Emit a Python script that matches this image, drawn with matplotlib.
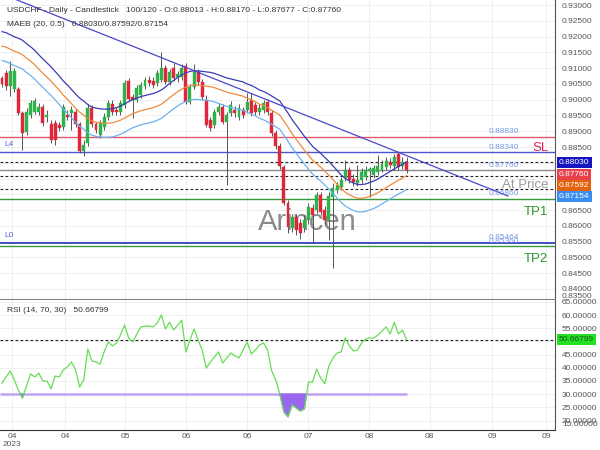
import matplotlib
matplotlib.use("Agg")
import matplotlib.pyplot as plt
import numpy as np

plt.rcParams['font.family'] = ['Liberation Sans', 'DejaVu Sans']

# daily candles, USDCHF, oldest first
opens = [
    .9069, .9085, .9043, .9034, .9034, .8958, .8898, .8951, .8961, .8961,
    .8977, .8945, .8923, .8926, .8920, .8913, .8951, .8958, .8961, .8923,
    .8837, .8863, .8974, .8923, .8888, .8913, .8945, .8986, .8967, .8961,
    .8983, .9059, .9009, .8999, .9015, .9043, .9062, .9059, .9053, .9062,
    .9100, .9056, .9100, .9072, .9072, .9107, .8993, .9040, .9088, .9056,
    .8999, .8936, .8920, .8961, .8977, .8929, .8958, .8967, .8945, .8967,
    .8967, .8999, .8983, .8961, .8967, .8993, .8958, .8894, .8853, .8787,
    .8673, .8593, .8628, .8609, .8593, .8619, .8657, .8650, .8698, .8650,
    .8619, .8692, .8714, .8723, .8752, .8777, .8749, .8736, .8745, .8755,
    .8774, .8761, .8771, .8777, .8787, .8803, .8790, .8828, .8790, .88013]
highs = [
    .9075, .9094, .9123, .9100, .9040, .8964, .8974, .8999, .9005, .8990,
    .8986, .8967, .8936, .8936, .8929, .8986, .8967, .8980, .8971, .8929,
    .8872, .8986, .8983, .8929, .8936, .8958, .8999, .8999, .8977, .8999,
    .9062, .9069, .9018, .9047, .9056, .9072, .9075, .9072, .9094, .9151,
    .9110, .9097, .9116, .9091, .9113, .9116, .9050, .9113, .9097, .9066,
    .9015, .8945, .8971, .8990, .8986, .8961, .8996, .8980, .8986, .8977,
    .9021, .9021, .8993, .8986, .8999, .9002, .8967, .8904, .8863, .8793,
    .8682, .8638, .8638, .8622, .8634, .8673, .8669, .8707, .8707, .8663,
    .8707, .8736, .8739, .8755, .8809, .8787, .8764, .8793, .8783, .8790,
    .8787, .8793, .8825, .8809, .8818, .8815, .8828, .8834, .8818, .88170]
lows = [
    .9040, .9031, .9012, .9024, .8951, .8841, .8888, .8942, .8955, .8951,
    .8917, .8929, .8863, .8856, .8901, .8904, .8936, .8904, .8913, .8831,
    .8822, .8853, .8913, .8894, .8879, .8904, .8936, .8951, .8951, .8951,
    .8974, .8996, .8942, .8993, .9005, .9034, .9043, .9037, .9043, .9056,
    .9050, .9047, .9059, .9056, .9062, .8986, .8986, .9034, .9047, .8999,
    .8913, .8901, .8910, .8951, .8923, .8730, .8948, .8945, .8936, .8942,
    .8958, .8948, .8951, .8951, .8958, .8951, .8885, .8844, .8780, .8666,
    .8577, .8581, .8571, .8558, .8581, .8606, .8546, .8641, .8634, .8603,
    .8555, .8466, .8704, .8714, .8742, .8736, .8726, .8726, .8736, .8745,
    .8692, .8752, .8761, .8771, .8777, .8783, .8777, .8777, .8780, .87677]
closes = [
    .9050, .9043, .9091, .9091, .8958, .8894, .8961, .8990, .8996, .8977,
    .8926, .8951, .8872, .8872, .8910, .8977, .8945, .8967, .8923, .8837,
    .8856, .8974, .8923, .8904, .8926, .8945, .8990, .8961, .8961, .8990,
    .9053, .9002, .8999, .9037, .9047, .9062, .9053, .9047, .9085, .9100,
    .9056, .9088, .9069, .9081, .9100, .8993, .9040, .9088, .9056, .9009,
    .8920, .8910, .8961, .8977, .8929, .8951, .8983, .8958, .8974, .8951,
    .8993, .8958, .8961, .8974, .8990, .8961, .8894, .8853, .8790, .8673,
    .8596, .8628, .8587, .8577, .8619, .8660, .8634, .8698, .8644, .8619,
    .8695, .8720, .8729, .8745, .8777, .8745, .8739, .8745, .8771, .8777,
    .8780, .8783, .8790, .8796, .8806, .8793, .8818, .8787, .8803, .87760]

# MAEB(20, 0.5) middle line
ma_mid = [
    .91698, .91666, .91602, .91539, .91491, .91428, .91317, .91222, .91111, .90968,
    .90841, .90714, .90588, .90445, .90302, .90144, .90017, .89874, .89731, .89604,
    .89509, .89398, .89319, .89287, .89265, .89255, .89255, .89265, .89303, .89351,
    .89414, .89493, .89557, .89604, .89652, .89684, .89715, .89747, .89795, .89858,
    .89953, .90064, .90159, .90254, .90334, .90397, .90445, .90461, .90461, .90445,
    .90429, .90413, .90381, .90334, .90286, .90239, .90207, .90175, .90144, .90112,
    .90048, .90001, .89937, .89858, .89811, .89747, .89668, .89589, .89509, .89319,
    .89129, .88922, .88748, .88574, .88399, .88241, .88082, .87971, .87860, .87733,
    .87606, .87464, .87321, .87178, .87067, .86988, .86924, .86877, .86877, .86893,
    .86940, .86988, .87051, .87131, .87210, .87289, .87368, .87448, .87511, .87592]
envelope_pct = 0.5

rsi = [
    34.2, 36.5, 38.8, 35.4, 31.6, 28.6, 33.1, 37.7, 36.5, 38.0,
    35.0, 35.0, 32.0, 36.9, 36.5, 39.2, 40.3, 42.2, 39.2, 32.7,
    35.4, 47.1, 42.6, 42.2, 41.4, 46.0, 49.8, 48.3, 49.4, 52.4,
    56.2, 51.3, 49.8, 52.8, 55.5, 55.8, 55.8, 55.5, 57.0, 60.0,
    54.7, 57.3, 54.3, 56.2, 58.1, 46.0, 50.5, 54.7, 50.5, 46.7,
    39.9, 42.2, 44.1, 46.0, 41.8, 43.7, 45.6, 44.5, 43.7, 46.7,
    49.8, 45.2, 46.7, 48.6, 49.4, 46.7, 38.8, 35.4, 30.1, 23.3,
    21.4, 25.9, 24.8, 23.6, 24.4, 34.6, 34.6, 39.5, 36.1, 33.9,
    40.7, 43.7, 45.6, 46.0, 51.3, 48.3, 46.4, 46.7, 49.4, 50.9,
    51.3, 51.3, 52.4, 53.9, 55.5, 52.8, 57.3, 52.8, 54.3, 50.67]
rsi_now = 50.66799
rsi_oversold = 30

sl_level = 0.88830
l4_level = 0.88340
price_now = 0.87760
tp1_level = 0.86860
l0_level = 0.85464
tp2_level = 0.85360
band_now = [0.88030, 0.87592, 0.87154]

trend_x = [-0.5, 123.8]
trend_y = [0.93376, 0.86947]

tick_pos = [2.45, 15.4, 30.1, 45.0, 60.0, 74.9, 89.8, 104.7, 119.9, 133.1]
tick_labels = ["04\n2023", "04", "05", "06", "06", "07", "08", "08", "09", "09"]

GREEN = "#2eb34a"
RED = "#e0263a"

fig = plt.figure(figsize=(6, 4.5), dpi=100)
ax = fig.add_axes([0, 1 - 300 / 450, 555 / 600, 300 / 450])
ax2 = fig.add_axes([0, 1 - 430 / 450, 555 / 600, 130 / 450], sharex=ax)

x = np.arange(len(closes))
o = np.array(opens)
c = np.array(closes)
up = c >= o
cols = np.where(up, GREEN, RED)

ax.text(62.7, 0.8612, "Arincen", fontsize=21, color="#777777", alpha=0.85,
        ha="left", va="center", zorder=1)

ax.vlines(x, lows, highs, color="#555555", lw=0.7, zorder=3)
ax.bar(x, np.maximum(np.abs(c - o), 0.00008), bottom=np.minimum(o, c), width=0.72,
       color=cols, edgecolor=cols, lw=0.3, zorder=4)

mid = np.array(ma_mid)
ax.plot(x, mid * (1 + envelope_pct / 100), color="#3b3bb3", lw=0.9, zorder=5)
ax.plot(x, mid, color="#f08a3c", lw=0.9, zorder=5)
ax.plot(x, mid * (1 - envelope_pct / 100), color="#6cb2f0", lw=0.9, zorder=5)
ax.plot(trend_x, trend_y, color="#4848c8", lw=0.9, zorder=5)

ax.axhline(sl_level, color="#e05a6a", lw=1.0, zorder=2)
ax.axhline(l4_level, color="#4a55d0", lw=1.0, zorder=2)
ax.axhline(band_now[0], color="#222222", lw=0.8, ls=(0, (2.5, 2)), zorder=2)
ax.axhline(price_now, color="#8a8a8a", lw=1.0, zorder=2)
ax.axhline(band_now[1], color="#222222", lw=0.8, ls=(0, (2.5, 2)), zorder=2)
ax.axhline(band_now[2], color="#222222", lw=0.8, ls=(0, (2.5, 2)), zorder=2)
ax.axhline(tp1_level, color="#3a9a3a", lw=1.0, zorder=2)
ax.axhline(l0_level, color="#3344bb", lw=1.3, zorder=2)
ax.axhline(tp2_level, color="#3a9a3a", lw=1.0, zorder=2)

for lv in [sl_level, l4_level, price_now, tp1_level, l0_level, tp2_level]:
    ax.annotate(f"{lv:.5f}", (119.2, lv), xytext=(0, 1), textcoords="offset points",
                fontsize=6, color="#7a9ae8", ha="left", va="bottom", zorder=6)
ax.annotate("SL", (133.7, l4_level), xytext=(0, 0.5), textcoords="offset points",
            fontsize=9.5, color="#dd2255", ha="right", va="baseline", zorder=6)
ax.annotate("At Price", (133.7, price_now), xytext=(0, -13), textcoords="offset points",
            fontsize=9.5, color="#9a9a9a", ha="right", va="baseline", zorder=6)
ax.annotate("TP1", (133.7, tp1_level), xytext=(0, -11.5), textcoords="offset points",
            fontsize=9.5, color="#2e962e", ha="right", va="baseline", zorder=6)
ax.annotate("TP2", (133.7, tp2_level), xytext=(0, -11.5), textcoords="offset points",
            fontsize=9.5, color="#2e962e", ha="right", va="baseline", zorder=6)
ax.annotate("L4", (0.6, l4_level), xytext=(0, 3), textcoords="offset points",
            fontsize=6, color="#5566dd", ha="left", va="bottom", zorder=6)
ax.annotate("L0", (0.6, l0_level), xytext=(0, 3), textcoords="offset points",
            fontsize=6, color="#5566dd", ha="left", va="bottom", zorder=6)

# price-scale labels hidden behind the current-value boxes
hidden_price = [0.870, 0.875, 0.880]
hidden_rsi = [50]


def price_fmt(v, pos):
    if any(abs(v - h) < 1e-6 for h in hidden_price):
        return ""
    return f"{v:.5f}"


def rsi_fmt(v, pos):
    if any(abs(v - h) < 1e-6 for h in hidden_rsi):
        return ""
    return f"{v:.5f}"


ax.set_xlim(-0.49, 135.34)
ax.set_ylim(0.8365, 0.9316)
ax.yaxis.tick_right()
ax.set_yticks(np.arange(0.840, 0.93001, 0.005))
ax.yaxis.set_major_formatter(plt.FuncFormatter(price_fmt))
ax.set_xticks(tick_pos)
ax.tick_params(axis="x", labelbottom=False, length=0)
ax.tick_params(axis="y", length=0, pad=5, labelsize=6, labelcolor="#555555")
ax.grid(color="#ececec", lw=0.6)
ax.set_axisbelow(True)
for s in ["top", "left"]:
    ax.spines[s].set_visible(False)
ax.spines["right"].set_color("#555555")
ax.spines["bottom"].set_color("#808080")
ax.spines["bottom"].set_linewidth(1.5)

# RSI panel
r = np.array(rsi)
ax2.plot(x, r, color="#66dd55", lw=0.9, zorder=4)
ax2.hlines(rsi_oversold, -0.5, x[-1], color="#c0a2f0", lw=1.8, zorder=3)
ax2.fill_between(x, r, rsi_oversold, where=r < rsi_oversold, interpolate=True,
                 color="#9a68ee", zorder=3)
ax2.axhline(rsi_now, color="#222222", lw=0.8, ls=(0, (2.5, 2)), zorder=2)
ax2.set_ylim(16.4, 65.7)
ax2.yaxis.tick_right()
ax2.set_yticks(np.arange(20, 66, 5))
ax2.yaxis.set_major_formatter(plt.FuncFormatter(rsi_fmt))
ax2.set_xticks(tick_pos)
ax2.set_xticklabels(tick_labels)
ax2.tick_params(axis="x", length=0, pad=2, labelsize=6, labelcolor="#555555")
ax2.tick_params(axis="y", length=0, pad=5, labelsize=6, labelcolor="#555555")
ax2.grid(color="#ececec", lw=0.6)
ax2.set_axisbelow(True)
for s in ["top", "left"]:
    ax2.spines[s].set_visible(False)
ax2.spines["right"].set_color("#555555")
ax2.spines["bottom"].set_color("#333333")

# header texts
fig.text(7 / 600, 1 - 10 / 450,
         "USDCHF - Daily - Candlestick   100/120 - O:0.88013 - H:0.88170 - L:0.87677 - C:0.87760",
         fontsize=6, color="#333333", va="center")
fig.text(7 / 600, 1 - 25 / 450,
         f"MAEB (20, 0.5)   {band_now[0]:.5f}/{band_now[1]:.5f}/{band_now[2]:.5f}",
         fontsize=6, color="#333333", va="center")
fig.text(7 / 600, 1 - 311 / 450, f"RSI (14, 70, 30)   {rsi_now:.5f}",
         fontsize=6, color="#333333", va="center")

# edge labels clipped by the panels
fig.text(562 / 600, 1 - 296 / 450, "0.83500", fontsize=6, color="#555555", va="center")
fig.text(562 / 600, 1 - 425 / 450, "15.00000", fontsize=6, color="#555555", va="center")

# current value boxes on the price scale
box_vals = [band_now[0], price_now, band_now[1], band_now[2]]
box_cols = ["#1414c0", "#e8404c", "#e2620e", "#3a8ef2"]
prev = -100
for val, bc in zip(box_vals, box_cols):
    ypx = 450 - ax.transData.transform((0, val))[1]
    ypx = max(ypx + 1, prev + 11.3)
    prev = ypx
    fig.text(559 / 600, 1 - ypx / 450, f"{val:.5f}", fontsize=6, color="white",
             va="center", ha="left",
             bbox=dict(boxstyle="square,pad=0.25", fc=bc, ec="none"))
ypx = 450 - ax2.transData.transform((0, rsi_now))[1]
fig.text(559 / 600, 1 - ypx / 450, f"{rsi_now:.5f}", fontsize=6, color="#1d5a1d",
         va="center", ha="left",
         bbox=dict(boxstyle="square,pad=0.25", fc="#22e022", ec="none"))

fig.savefig("out.png", dpi=100)
